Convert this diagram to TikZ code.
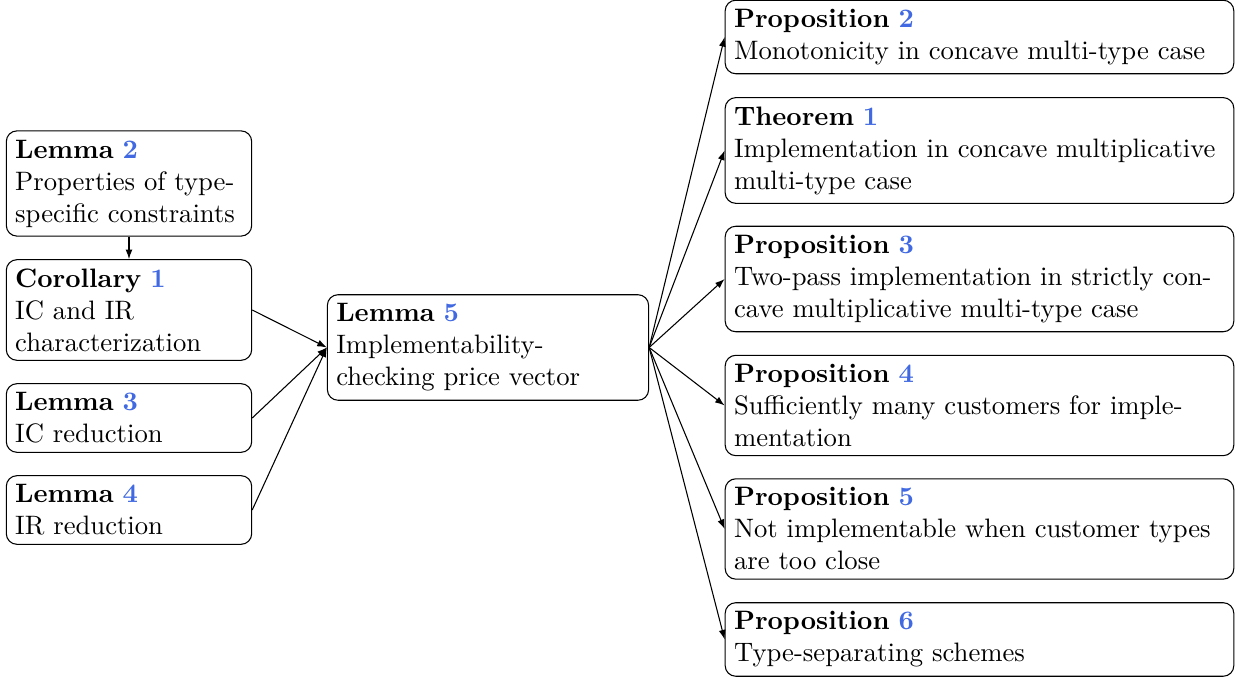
\documentclass[tikz,border=0pt]{standalone}
\usetikzlibrary{arrows.meta}
\definecolor{refblue}{RGB}{65,105,225}
\newcommand{\hd}[2]{\textbf{#1 \textcolor{refblue}{#2}}}
\begin{document}
\begin{tikzpicture}[x=0.375pt,y=-0.375pt,
  box/.style={draw, rounded corners=4pt, align=left, inner sep=0.333em},
  lbox/.style={box, text width=3cm},
  mbox/.style={box, text width=4cm},
  rbox/.style={box, text width=6.47cm},
  arr/.style={-{Latex[length=3.6pt,width=2.6pt]}}]
\useasboundingbox (0,0) rectangle (1238,679);
\node[lbox] (l2) at (129,183.5) {\hd{Lemma}{2}\\Properties of type-specific constraints};
\node[lbox] (c1) at (129,310) {\hd{Corollary}{1}\\IC and IR \mbox{characterization}};
\node[lbox] (l3) at (129,418) {\hd{Lemma}{3}\\IC reduction};
\node[lbox] (l4) at (129,510) {\hd{Lemma}{4}\\IR reduction};
\node[mbox] (l5) at (488,347.5) {\hd{Lemma}{5}\\Implementability-checking price vector};
\node[rbox] (p2) at (979.5,37) {\hd{Proposition}{2}\\Monotonicity in concave multi-type case};
\node[rbox] (t1) at (979.5,150.5) {\hd{Theorem}{1}\\Implementation in concave multiplicative multi-type case};
\node[rbox] (p3) at (979.5,279) {\hd{Proposition}{3}\\Two-pass implementation in strictly concave multiplicative multi-type case};
\node[rbox] (p4) at (979.5,405.5) {\hd{Proposition}{4}\\Sufficiently many customers for implementation};
\node[rbox] (p5) at (979.5,529) {\hd{Proposition}{5}\\Not implementable when customer types are too close};
\node[rbox] (p6) at (979.5,639.5) {\hd{Proposition}{6}\\Type-separating schemes};
\draw[arr] (l2.south) -- (c1.north);
\foreach \n in {c1,l3,l4} \draw[arr] (\n.east) -- (l5.west);
\foreach \n in {p2,t1,p3,p4,p5,p6} \draw[arr] (l5.east) -- (\n.west);
\end{tikzpicture}
\end{document}
